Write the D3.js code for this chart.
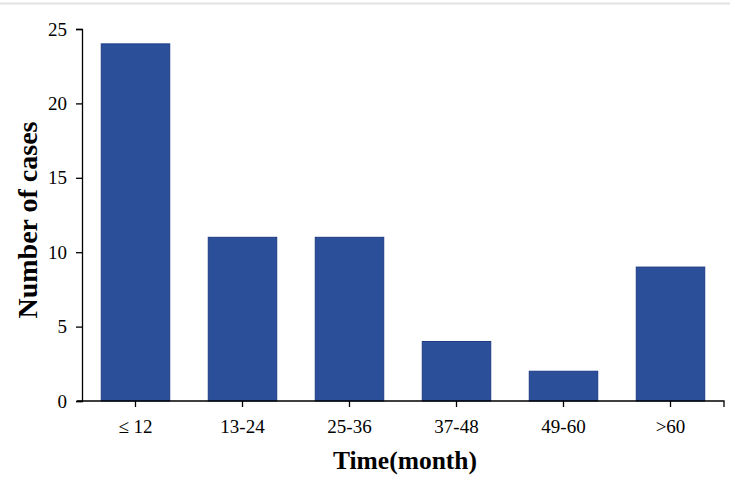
<!DOCTYPE html>
<html>
<head>
<meta charset="utf-8">
<script src="https://d3js.org/d3.v7.min.js"></script>
<style>
  body { margin: 0; background: #fff; }
  svg { display: block; }
  .tick text { font-family: "Liberation Serif", "Times New Roman", serif; font-size: 19px; fill: #000; }
  .axis path, .axis line { stroke: #000; stroke-width: 1.3; }
  .title { font-family: "Liberation Serif", "Times New Roman", serif; font-weight: bold; fill: #000; }
</style>
</head>
<body>
<div id="chart"></div>
<script>
var categories = ["\u2264 12", "13-24", "25-36", "37-48", "49-60", ">60"];
var cases = [24, 11, 11, 4, 2, 9];
var yTicks = [0, 5, 10, 15, 20, 25];

var w = 735,
    h = 481,
    margin = {top: 29, right: 11, bottom: 80, left: 82};

var svg = d3.select("#chart").append("svg")
    .attr("width", w)
    .attr("height", h);

// faint line across the top of the figure
svg.append("line")
    .attr("x1", 0).attr("x2", 730)
    .attr("y1", 3.5).attr("y2", 3.5)
    .attr("stroke", "#e2e2e2")
    .attr("stroke-width", 2);

var x = d3.scaleBand()
    .domain(categories)
    .range([margin.left, w - margin.right])
    .paddingInner(0.36)
    .paddingOuter(0.18);

var y = d3.scaleLinear()
    .domain([0, 25])
    .range([h - margin.bottom, margin.top]);

var g = svg.append("g");

g.selectAll("rect.bar")
    .data(cases)
    .enter()
    .append("rect")
    .attr("class", "bar")
    .attr("x", function(d, i) { return x(categories[i]); })
    .attr("y", function(d) { return y(d); })
    .attr("width", x.bandwidth())
    .attr("height", function(d) { return y(0) - y(d); })
    .attr("fill", "#2c4f99")
    .attr("stroke", "#1d3b85")
    .attr("stroke-width", 1);

// y axis
var yAxis = svg.append("g")
    .attr("class", "axis")
    .attr("transform", "translate(" + margin.left + ",0)")
    .call(d3.axisLeft(y).tickValues(yTicks).tickSize(6).tickSizeOuter(6).tickPadding(9));

// x axis
var xAxis = svg.append("g")
    .attr("class", "axis")
    .attr("transform", "translate(0," + y(0) + ")")
    .call(d3.axisBottom(x).tickSize(6).tickSizeOuter(6).tickPadding(13));

xAxis.select(".domain")
    .attr("d", "M" + (margin.left - 5) + ",0H" + (w - margin.right) + "V6");

svg.append("text")
    .attr("class", "title")
    .attr("x", 405)
    .attr("y", 469)
    .attr("text-anchor", "middle")
    .style("font-size", "25.5px")
    .text("Time(month)");

svg.append("text")
    .attr("class", "title")
    .attr("transform", "translate(37," + 220 + ") rotate(-90)")
    .attr("text-anchor", "middle")
    .style("font-size", "28px")
    .text("Number of cases");
</script>
</body>
</html>
